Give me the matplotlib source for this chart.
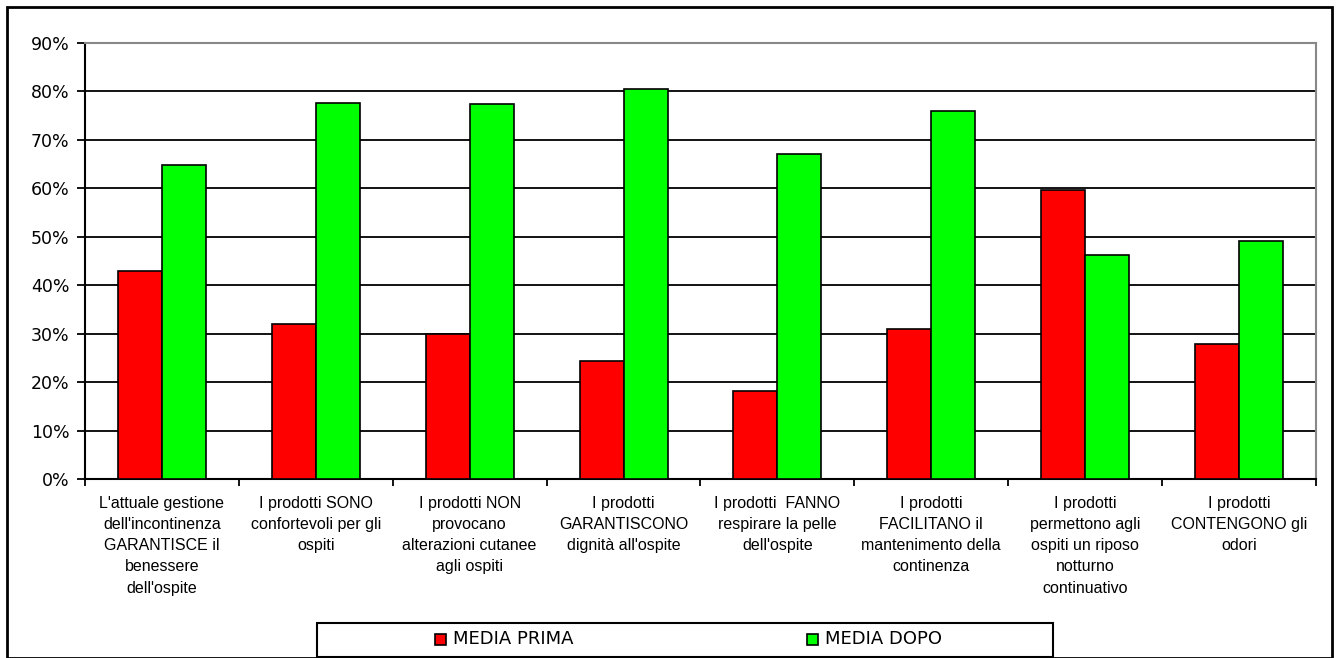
import matplotlib.pyplot as plt
import numpy as np
from matplotlib.patches import Rectangle
from matplotlib.ticker import FixedLocator, PercentFormatter

CATEGORIES = [
    "L'attuale gestione\ndell'incontinenza\nGARANTISCE il\nbenessere\ndell'ospite",
    "I prodotti SONO\nconfortevoli per gli\nospiti",
    "I prodotti NON\nprovocano\nalterazioni cutanee\nagli ospiti",
    "I prodotti\nGARANTISCONO\ndignità all'ospite",
    "I prodotti  FANNO\nrespirare la pelle\ndell'ospite",
    "I prodotti\nFACILITANO il\nmantenimento della\ncontinenza",
    "I prodotti\npermettono agli\nospiti un riposo\nnotturno\ncontinuativo",
    "I prodotti\nCONTENGONO gli\nodori",
]
MEDIA_PRIMA = [43.0, 31.9, 29.9, 24.3, 18.1, 31.0, 59.6, 27.8]
MEDIA_DOPO = [64.8, 77.7, 77.3, 80.6, 67.0, 75.9, 46.3, 49.2]
SERIES_NAMES = ["MEDIA PRIMA", "MEDIA DOPO"]
Y_TICKS = [0, 10, 20, 30, 40, 50, 60, 70, 80, 90]

RED = "#ff0000"
GREEN = "#00ff00"


def main():
    fig = plt.figure(figsize=(13.4, 6.58), dpi=100)
    ax = fig.add_axes([0.0634, 0.272, 0.9187, 0.6627])

    x = np.arange(len(CATEGORIES))
    w = 1 / 3.5  # excel gap width 150%

    ax.bar(x - w / 2, MEDIA_PRIMA, w, color=RED, edgecolor="black", linewidth=1.2, zorder=3)
    ax.bar(x + w / 2, MEDIA_DOPO, w, color=GREEN, edgecolor="black", linewidth=1.2, zorder=3)

    ax.set_xlim(-0.5, len(CATEGORIES) - 0.5)
    ax.set_ylim(0, 90)
    ax.yaxis.set_major_locator(FixedLocator(Y_TICKS))
    ax.yaxis.set_major_formatter(PercentFormatter(decimals=0))
    ax.yaxis.grid(True, color="black", linewidth=1.3)
    ax.set_axisbelow(True)

    # category labels centred, tick marks between the groups
    ax.set_xticks(x)
    ax.set_xticklabels(CATEGORIES, family="Liberation Sans", fontsize=11.5, linespacing=1.52)
    ax.set_xticks(np.arange(len(CATEGORIES) + 1) - 0.5, minor=True)
    ax.tick_params(axis="x", which="major", length=0, pad=12)
    ax.tick_params(axis="x", which="minor", length=5, width=1.3, color="black")
    ax.tick_params(axis="y", length=6, width=1.3, labelsize=12.5, pad=5)

    for side in ["left", "bottom"]:
        ax.spines[side].set_color("black")
        ax.spines[side].set_linewidth(1.5)
    for side in ["top", "right"]:
        ax.spines[side].set_color("#888888")
        ax.spines[side].set_linewidth(1.5)

    # legend box
    fig.add_artist(Rectangle((317 / 1340, 1 / 658), 736 / 1340, 34 / 658,
                             transform=fig.transFigure, facecolor="white",
                             edgecolor="black", linewidth=1.5))
    for name, color, mx in zip(SERIES_NAMES, [RED, GREEN], [435, 807]):
        fig.add_artist(Rectangle((mx / 1340, 13.5 / 658), 11 / 1340, 11 / 658,
                                 transform=fig.transFigure, facecolor=color,
                                 edgecolor="black", linewidth=1.2))
        fig.text((mx + 18) / 1340, 19 / 658, name, fontsize=13, va="center", ha="left")

    # outer chart border
    fig.add_artist(Rectangle((7 / 1340, 0), 1325 / 1340, 651 / 658,
                             transform=fig.transFigure, fill=False,
                             edgecolor="black", linewidth=2))

    fig.savefig("out.png", dpi=100)


main()
